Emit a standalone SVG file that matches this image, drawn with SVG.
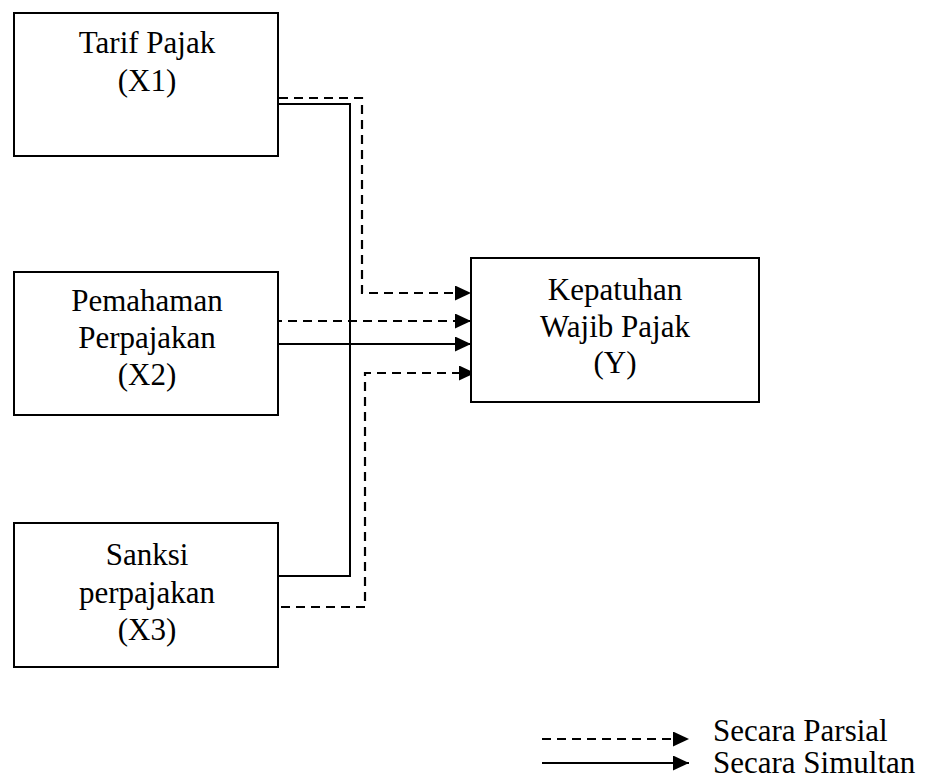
<svg xmlns="http://www.w3.org/2000/svg" width="928" height="780" viewBox="0 0 928 780">
<style>
.box{fill:#fff;stroke:#000;stroke-width:2}
.t{font-family:"Liberation Serif","Times New Roman",serif;font-size:31px;fill:#000;text-anchor:middle}
.lt{font-family:"Liberation Serif","Times New Roman",serif;font-size:31px;fill:#000}
.s{fill:none;stroke:#000;stroke-width:2}
.d{fill:none;stroke:#000;stroke-width:2.2;stroke-dasharray:9 6}
</style>
<defs>
<marker id="ah" viewBox="0 0 16 15" markerWidth="16" markerHeight="15" refX="16" refY="7.5" orient="auto" markerUnits="userSpaceOnUse">
<path d="M0,0 L16,7.5 L0,15 Z" fill="#000" stroke="none"/>
</marker>
</defs>
<rect width="928" height="780" fill="#fff"/>
<g id="connectors">
<path class="s" d="M279,104 H350 V576 H279"/>
<path class="d" d="M279,98 H362 V293 H471" marker-end="url(#ah)"/>
<path class="d" d="M273,321 H471" marker-end="url(#ah)"/>
<path class="s" d="M279,344 H471" marker-end="url(#ah)"/>
<path class="d" d="M281,607 H365 V373 H475" marker-end="url(#ah)"/>
</g>
<g id="x1">
<rect class="box" x="14" y="13" width="264" height="143"/>
<text class="t" x="147" y="53">Tarif Pajak</text>
<text class="t" x="147" y="91">(X1)</text>
</g>
<g id="x2">
<rect class="box" x="14" y="272" width="264" height="143"/>
<text class="t" x="147" y="311">Pemahaman</text>
<text class="t" x="147" y="348">Perpajakan</text>
<text class="t" x="147" y="385">(X2)</text>
</g>
<g id="x3">
<rect class="box" x="14" y="523" width="264" height="144"/>
<text class="t" x="147" y="565">Sanksi</text>
<text class="t" x="147" y="603">perpajakan</text>
<text class="t" x="147" y="640">(X3)</text>
</g>
<g id="y">
<rect class="box" x="471" y="258" width="288" height="144"/>
<text class="t" x="615" y="300">Kepatuhan</text>
<text class="t" x="615" y="337">Wajib Pajak</text>
<text class="t" x="615" y="373">(Y)</text>
</g>
<g id="legend">
<path class="d" d="M542,739 H689" marker-end="url(#ah)"/>
<path class="s" d="M542,763 H689" marker-end="url(#ah)"/>
<text class="lt" x="713" y="741">Secara Parsial</text>
<text class="lt" x="713" y="773">Secara Simultan</text>
</g>
</svg>
